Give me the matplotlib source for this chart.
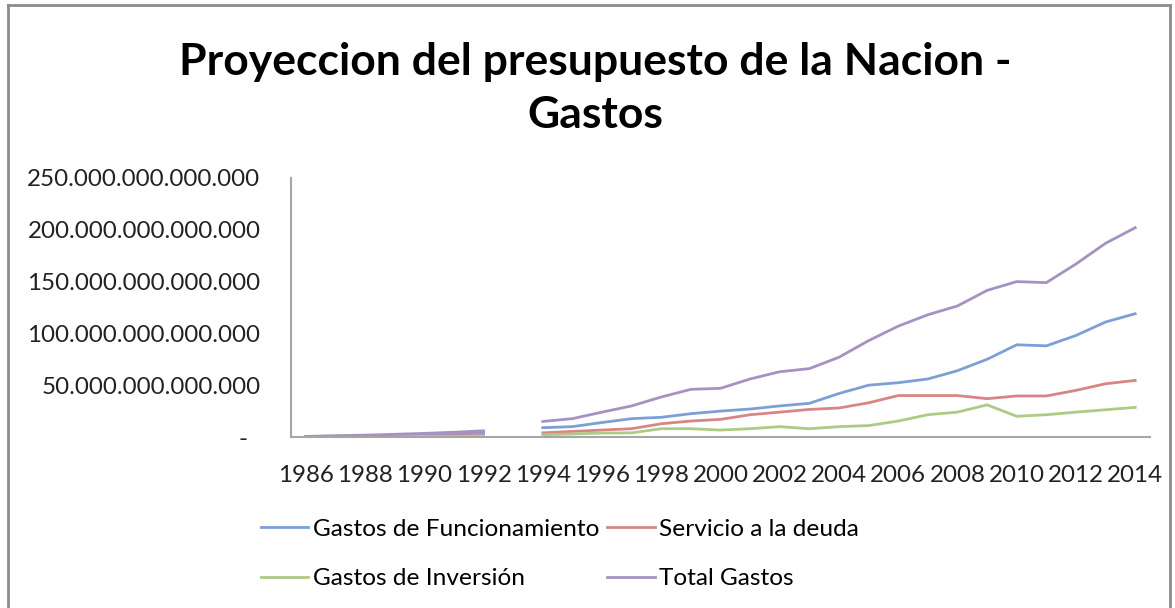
import numpy as np
import matplotlib
matplotlib.use("Agg")
import matplotlib.pyplot as plt
from matplotlib.ticker import FuncFormatter
from matplotlib.lines import Line2D

plt.rcParams['font.family'] = ['Lato', 'DejaVu Sans']

years = list(range(1986, 2015))
# billones (10^12) de pesos; 1993 sin dato
funcionamiento = [0.4, 0.8, 1.2, 1.7, 2.3, 3.0, 4.0, np.nan,
                  9, 10, 14, 17.7, 19, 22.5, 25, 27, 30, 32.5, 42,
                  50, 52.4, 56, 64, 75, 89, 88, 98, 111, 119]
deuda = [0.15, 0.3, 0.4, 0.6, 0.8, 1.1, 1.4, np.nan,
         4, 5.4, 6.7, 8, 12.8, 15.4, 17, 21.5, 24, 26.6, 28,
         33, 40, 40, 40, 37, 39.6, 39.6, 45, 51.4, 54.6]
inversion = [0.05, 0.1, 0.2, 0.3, 0.4, 0.5, 0.6, np.nan,
             2.2, 2.9, 3.8, 4, 8, 8, 6.7, 8, 10, 8, 10,
             11, 15.4, 21.5, 24, 31, 20, 21.5, 24, 26.3, 28.6]
total = [0.6, 1.2, 1.8, 2.6, 3.5, 4.6, 6.0, np.nan,
         15, 17.7, 24, 30, 38.6, 46, 47, 56, 63, 66, 77,
         93, 107, 118, 126.5, 141.5, 150, 149, 167, 187, 202]

series = [
    ("Gastos de Funcionamiento", funcionamiento, "#7D9FD6"),
    ("Servicio a la deuda", deuda, "#D98585"),
    ("Gastos de Inversión", inversion, "#AECB85"),
    ("Total Gastos", total, "#A592C2"),
]

fig = plt.figure(figsize=(11.75, 6.08), dpi=100)
ax = fig.add_axes([291 / 1175, 1 - 437 / 608, (1150 - 291) / 1175, (437 - 178) / 608])

x = np.arange(len(years))
lines = {}
for name, vals, col in series:
    lines[name], = ax.plot(x, np.array(vals) * 1e12, color=col, lw=2.0, label=name)

ax.set_xlim(-0.5, len(years) - 0.5)
ax.set_ylim(0, 250e12)
ax.set_xticks(x[::2])
ax.set_xticklabels([str(y) for y in years[::2]])
ax.set_yticks(np.arange(0, 251e12, 50e12))


def fmt(v, pos):
    if v == 0:
        return "-  "
    return f"{v:,.0f}".replace(",", ".")


ax.yaxis.set_major_formatter(FuncFormatter(fmt))
ax.tick_params(length=0, labelsize=17.4, colors="#222222")
ax.tick_params(axis="y", pad=22)
ax.tick_params(axis="x", pad=20)
for s in ["top", "right"]:
    ax.spines[s].set_visible(False)
for s in ["left", "bottom"]:
    ax.spines[s].set_color("#A6A6A6")
    ax.spines[s].set_linewidth(1.5)

fig.text(595 / 1175, 1 - 62 / 608, "Proyeccion del presupuesto de la Nacion -",
         ha="center", va="center", fontsize=32, fontweight="bold")
fig.text(595 / 1175, 1 - 115 / 608, "Gastos",
         ha="center", va="center", fontsize=32, fontweight="bold")

# orden por filas como en Excel
order = ["Gastos de Funcionamiento", "Gastos de Inversión",
         "Servicio a la deuda", "Total Gastos"]
handles = [Line2D([0], [0], color=lines[n].get_color(), lw=2.0) for n in order]
fig.legend(handles, order, ncol=2, loc="center", bbox_to_anchor=(560 / 1175, 1 - 554 / 608),
           frameon=False, fontsize=17.6, handlelength=1.95, handletextpad=0.2,
           columnspacing=0.3, labelspacing=1.15)

# marco del grafico
border = dict(color="#8C8C8C", lw=2)
fig.add_artist(Line2D([8 / 1175, 8 / 1175], [0, 1 - 5 / 608], **border))
fig.add_artist(Line2D([8 / 1175, 1170 / 1175], [1 - 5 / 608, 1 - 5 / 608], **border))
fig.add_artist(Line2D([1170 / 1175, 1170 / 1175], [0, 1 - 5 / 608], **border))

fig.savefig("out.png", dpi=100)
